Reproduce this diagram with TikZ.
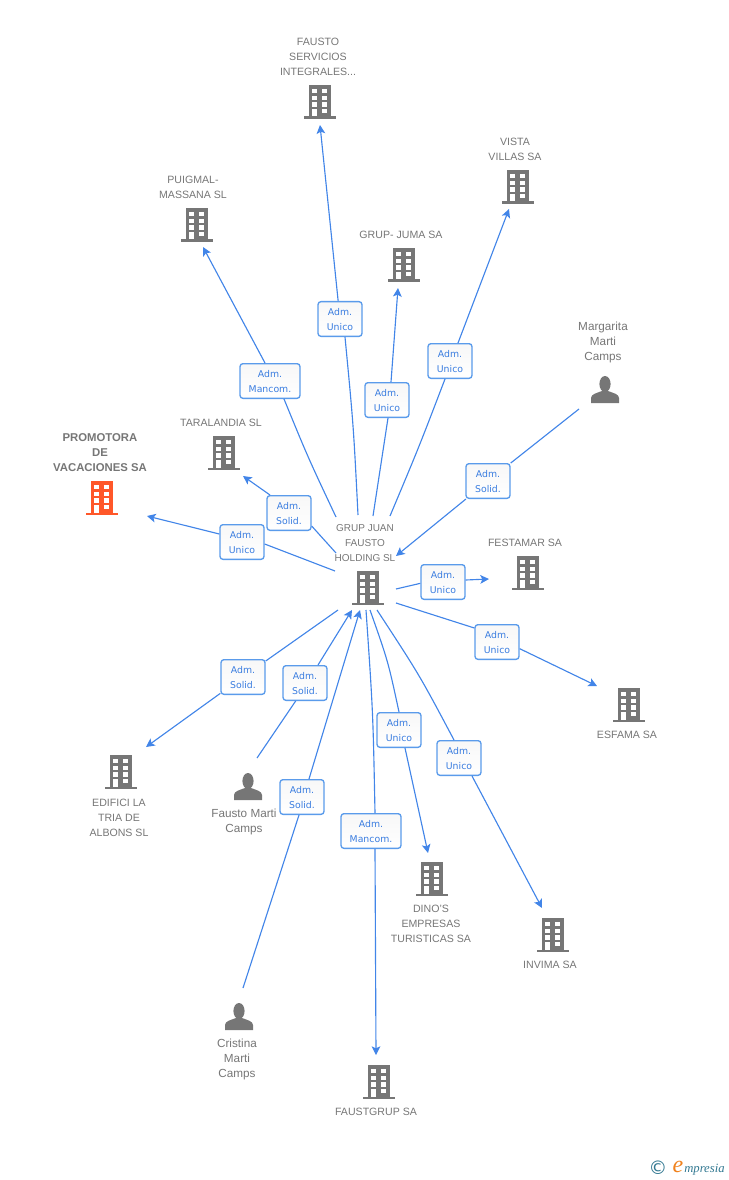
\documentclass[tikz,border=0pt]{standalone}
\usepackage{fontspec}
\setmainfont{Liberation Sans}
\newfontfamily\admfont{DejaVu Sans}
\newfontfamily\logofont{Liberation Serif}
\usetikzlibrary{arrows.meta,shadings}
\definecolor{lnkblue}{RGB}{66,133,232}
\definecolor{admblue}{RGB}{58,125,224}
\definecolor{admedge}{RGB}{90,155,235}
\definecolor{entgray}{RGB}{118,118,118}
\definecolor{topred}{RGB}{255,87,41}
\definecolor{logoteal}{RGB}{50,120,145}
\definecolor{logoorange}{RGB}{240,130,30}

\tikzset{
  pics/bldg/.style={code={
    \fill[#1] (-11,-17) rectangle (11,15);
    \fill[#1] (-16,14.5) rectangle (16,17);
    \foreach \yy in {-13,-6.3,0.4} {
      \fill[white] (-8,\yy) rectangle (-3.4,\yy+4.4);
      \fill[white] (2,\yy) rectangle (6.6,\yy+4.4);
    }
    \fill[white] (-8,7) rectangle (-3.4,14.5);
    \fill[white] (2,7) rectangle (6.6,11.4);
  }},
  pics/pers/.style={code={
    \fill[#1] (0,-6) ellipse (5.6 and 8);
    \fill[#1] (-14,13) -- (-14,8) .. controls (-14,4) and (-8,3) .. (-3,1)
      -- (3,1) .. controls (8,3) and (14,4) .. (14,8) -- (14,13) -- cycle;
  }}
}

\begin{document}
\begin{tikzpicture}[x=0.75pt,y=-0.75pt]
\tikzstyle{ent}=[text=entgray,align=center,inner sep=0pt,yshift=-0.6pt,font=\fontsize{7.95}{11.25}\selectfont]
\tikzstyle{who}=[ent,font=\fontsize{8.8}{11.25}\selectfont]
\tikzstyle{adm}=[draw=admedge,line width=1pt,rounded corners=2.2pt,top color=black!3,bottom color=white,
  text=admblue,align=center,inner sep=0pt,minimum width=33pt,minimum height=26pt,text height=18pt,
  font=\admfont\fontsize{7}{11.25}\selectfont]
\tikzstyle{lnk}=[lnkblue,line width=0.85pt]
\tikzstyle{arr}=[lnk,-{Stealth[length=6.5pt,width=6.5pt,inset=1.5pt]}]
\useasboundingbox (0,0) rectangle (728,1180);

% the companies and people
\pic at (368,588) {bldg=entgray};
\node[ent,font=\fontsize{7.5}{11.25}\selectfont] (hub) at (365,542) {GRUP JUAN\\FAUSTO\\HOLDING SL};
\pic at (102,498) {bldg=topred};
\node[ent,font=\bfseries\fontsize{8.5}{11.25}\selectfont] (promo) at (100,452) {PROMOTORA\\DE\\VACACIONES SA};
\pic at (320,102) {bldg=entgray};
\node[ent] (fserv) at (318,56) {FAUSTO\\SERVICIOS\\INTEGRALES...};
\pic at (197,225) {bldg=entgray};
\node[ent] (puig) at (193,187) {PUIGMAL-\\MASSANA SL};
\pic at (404,265) {bldg=entgray};
\node[ent] (juma) at (401,234) {GRUP- JUMA SA};
\pic at (518,187) {bldg=entgray};
\node[ent] (vista) at (515,149) {VISTA\\VILLAS SA};
\pic at (224,453) {bldg=entgray};
\node[ent] (taral) at (221,422) {TARALANDIA SL};
\pic at (528,573) {bldg=entgray};
\node[ent] (festa) at (525,542) {FESTAMAR SA};
\pic at (629,705) {bldg=entgray};
\node[ent] (esfa) at (627,734) {ESFAMA SA};
\pic at (121,772) {bldg=entgray};
\node[ent] (edif) at (119,817) {EDIFICI LA\\TRIA DE\\ALBONS SL};
\pic at (432,879) {bldg=entgray};
\node[ent] (dino) at (431,923) {DINO'S\\EMPRESAS\\TURISTICAS SA};
\pic at (553,935) {bldg=entgray};
\node[ent] (invi) at (550,964) {INVIMA SA};
\pic at (379,1082) {bldg=entgray};
\node[ent] (fgrup) at (376,1111) {FAUSTGRUP SA};
\pic at (605,390) {pers=entgray};
\node[who] (marg) at (603,342) {Margarita\\Marti\\Camps};
\pic at (248,787) {pers=entgray};
\node[who] (fmarti) at (244,821) {Fausto Marti\\Camps};
\pic at (239,1017) {pers=entgray};
\node[who] (crist) at (237,1059) {Cristina\\Marti\\Camps};

% the boxes on the links
\node[adm] (afserv) at (340,319) {Adm.\\Unico};
\node[adm,minimum width=45pt] (apuig) at (270,381) {Adm.\\Mancom.};
\node[adm] (ajuma) at (387,400) {Adm.\\Unico};
\node[adm] (avista) at (450,361) {Adm.\\Unico};
\node[adm] (amarg) at (488,481) {Adm.\\Solid.};
\node[adm] (ataral) at (289,513) {Adm.\\Solid.};
\node[adm] (apromo) at (242,542) {Adm.\\Unico};
\node[adm] (afesta) at (443,582) {Adm.\\Unico};
\node[adm] (aesfa) at (497,642) {Adm.\\Unico};
\node[adm] (aedif) at (243,677) {Adm.\\Solid.};
\node[adm] (afmarti) at (305,683) {Adm.\\Solid.};
\node[adm] (acrist) at (302,797) {Adm.\\Solid.};
\node[adm,minimum width=45pt] (afgrup) at (371,831) {Adm.\\Mancom.};
\node[adm] (adino) at (399,730) {Adm.\\Unico};
\node[adm] (ainvi) at (459,758) {Adm.\\Unico};

% free ends of the links
\coordinate (sfserv) at (358,515); \coordinate (tfserv) at (320,125);
\coordinate (spuig) at (336,517); \coordinate (tpuig) at (203,247);
\coordinate (sjuma) at (373,516); \coordinate (tjuma) at (398,288);
\coordinate (svista) at (390,516); \coordinate (tvista) at (509,209);
\coordinate (smarg) at (579,409); \coordinate (tmarg) at (396,556);
\coordinate (staral) at (336,553); \coordinate (ttaral) at (243,476);
\coordinate (spromo) at (335,571); \coordinate (tpromo) at (147,516);
\coordinate (sfesta) at (396,589); \coordinate (tfesta) at (489,579);
\coordinate (sesfa) at (396,603); \coordinate (tesfa) at (597,686);
\coordinate (sedif) at (338,610); \coordinate (tedif) at (146,747);
\coordinate (sfmarti) at (257,758); \coordinate (tfmarti) at (352,610);
\coordinate (scrist) at (243,988); \coordinate (tcrist) at (360,610);
\coordinate (sfgrup) at (366,610); \coordinate (tfgrup) at (376,1055);
\coordinate (sdino) at (370,610); \coordinate (tdino) at (428,853);
\coordinate (sinvi) at (377,610); \coordinate (tinvi) at (542,908);

\draw[lnk] (sfserv) .. controls (353.5,426) .. ([xshift=3.75pt]afserv.south); \draw[arr] (afserv) -- (tfserv);
\draw[lnk] (spuig) .. controls (308,457.5) .. ([xshift=10.5pt]apuig.south); \draw[arr] ([xshift=-3.75pt]apuig.north) -- (tpuig);
\draw[lnk] (sjuma) -- ([xshift=0.75pt]ajuma.south); \draw[arr] ([xshift=3pt]ajuma.north) -- (tjuma);
\draw[lnk] (svista) .. controls (419,447) .. ([xshift=-3.75pt]avista.south); \draw[arr] ([xshift=6pt]avista.north) -- (tvista);
\draw[lnk] (smarg) -- (amarg); \draw[arr] (amarg) -- (tmarg);
\draw[lnk] (staral) -- ([yshift=-9.75pt]ataral.east); \draw[arr] ([xshift=-14.25pt]ataral.north) -- (ttaral);
\draw[lnk] (spromo) -- ([yshift=-1.5pt]apromo.east); \draw[arr] ([yshift=6pt]apromo.west) -- (tpromo);
\draw[lnk] (sfesta) -- ([yshift=-1pt]afesta.west); \draw[arr] ([yshift=1.5pt]afesta.east) -- (tfesta);
\draw[lnk] (sesfa) -- ([yshift=10.5pt]aesfa.west); \draw[arr] ([yshift=-5pt]aesfa.east) -- (tesfa);
\draw[lnk] (sedif) -- (aedif); \draw[arr] (aedif) -- (tedif);
\draw[lnk] (sfmarti) -- ([xshift=-7pt]afmarti.south); \draw[arr] ([xshift=9.75pt]afmarti.north) -- (tfmarti);
\draw[lnk] (scrist) -- ([xshift=-2.25pt]acrist.south); \draw[arr] ([xshift=5.25pt]acrist.north) -- (tcrist);
\draw[lnk] (sfgrup) .. controls (373,712) .. ([xshift=3pt]afgrup.north); \draw[arr] ([xshift=3pt]afgrup.south) -- (tfgrup);
\draw[lnk] (sdino) .. controls (388,661) .. (adino.north); \draw[arr] ([xshift=4.5pt]adino.south) -- (tdino);
\draw[lnk] (sinvi) .. controls (419.5,675) .. ([xshift=-3.75pt]ainvi.north); \draw[arr] ([xshift=9.75pt]ainvi.south) -- (tinvi);

% logo
\node[text=logoteal,inner sep=0pt,font=\admfont\fontsize{14}{14}\selectfont] (copyr) at (658,1168) {©};
\node[text=logoorange,inner sep=0pt,font=\logofont\itshape\fontsize{18}{18}\selectfont] (logoe) at (678,1167) {e};
\node[text=logoteal,inner sep=0pt,anchor=west,font=\logofont\itshape\fontsize{9.5}{11}\selectfont] (logot) at (684,1170) {mpresia};
\end{tikzpicture}
\end{document}
